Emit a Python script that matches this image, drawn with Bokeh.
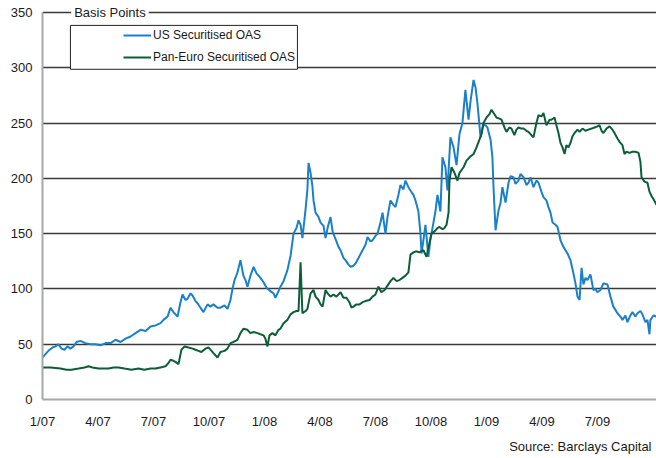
from bokeh.plotting import figure
from bokeh.models import (Range1d, FixedTicker, Label, Legend, LegendItem,
                          BoxAnnotation, ColumnDataSource, Title)
from bokeh.embed import file_html
from bokeh.resources import INLINE

# x = months since start of January 2007
tick_pos = [0, 3, 6, 9, 12, 15, 18, 21, 24, 27, 30]
tick_labels = ["1/07", "4/07", "7/07", "10/07", "1/08", "4/08", "7/08",
               "10/08", "1/09", "4/09", "7/09"]
y_ticks = [0, 50, 100, 150, 200, 250, 300, 350]

us_x = [0, 0.16, 0.32, 0.54, 0.70, 0.86, 1.03, 1.19, 1.35, 1.51, 1.68, 1.84,
        2.05, 2.32, 2.59, 2.86, 3.14, 3.41, 3.68, 3.95, 4.22, 4.49, 4.76,
        5.03, 5.30, 5.57, 5.84, 6.11, 6.38, 6.54, 6.76, 6.92, 7.08, 7.30,
        7.46, 7.57, 7.73, 7.84, 8.00, 8.11, 8.27, 8.38, 8.54, 8.70, 8.92,
        9.08, 9.24, 9.46, 9.62, 9.84, 10.00, 10.16, 10.27, 10.38, 10.54,
        10.70, 10.86, 10.97, 11.08, 11.24, 11.41, 11.57, 11.78, 11.95, 12.11,
        12.32, 12.49, 12.59, 12.76, 12.86, 13.03, 13.24, 13.41, 13.57, 13.73,
        13.84, 13.95, 14.05, 14.22, 14.32, 14.38, 14.49, 14.59, 14.65, 14.76,
        14.92, 15.03, 15.19, 15.30, 15.41, 15.57, 15.68, 15.84, 16.00, 16.11,
        16.27, 16.38, 16.54, 16.65, 16.81, 16.92, 17.08, 17.30, 17.46, 17.57,
        17.73, 17.84, 18.00, 18.11, 18.27, 18.38, 18.54, 18.65, 18.81, 18.97,
        19.08, 19.24, 19.35, 19.51, 19.62, 19.78, 19.89, 20.05, 20.16, 20.32,
        20.43, 20.49, 20.59, 20.70, 20.86, 20.97, 21.08, 21.24, 21.35, 21.51,
        21.62, 21.78, 21.89, 22.05, 22.22, 22.38, 22.54, 22.70, 22.86, 23.03,
        23.14, 23.30, 23.41, 23.51, 23.68, 23.84, 24.05, 24.22, 24.32, 24.38,
        24.49, 24.65, 24.76, 24.86, 25.03, 25.19, 25.30, 25.46, 25.57, 25.73,
        25.84, 26.00, 26.16, 26.27, 26.38, 26.54, 26.70, 26.81, 26.97, 27.08,
        27.24, 27.35, 27.46, 27.57, 27.73, 27.84, 28.00, 28.16, 28.38, 28.54,
        28.70, 28.81, 28.92, 29.03, 29.14, 29.24, 29.35, 29.46, 29.62, 29.78,
        29.89, 30.00, 30.16, 30.32, 30.54, 30.70, 30.86, 31.08, 31.24, 31.35,
        31.51, 31.62, 31.78, 31.89, 32.05, 32.16, 32.32, 32.43, 32.59, 32.70,
        32.81, 32.86, 33.03, 33.19]
us_oas = [38, 41, 44, 47, 48, 50, 46, 45, 48, 46, 48, 52,
          53, 51, 50, 50, 49, 51, 51, 54, 52, 55, 57,
          60, 63, 62, 66, 67, 69, 72, 75, 83, 79, 75,
          88, 95, 90, 91, 96, 94, 89, 87, 83, 79, 86,
          84, 86, 83, 83, 85, 82, 90, 100, 108, 115,
          126, 112, 108, 102, 112, 120, 114, 110, 106, 101,
          98, 96, 92, 98, 102, 107, 117, 130, 150, 155,
          162, 158, 146, 172, 190, 214, 205, 193, 180, 169,
          165, 160, 157, 146, 155, 165, 152, 145, 138, 135,
          128, 126, 122, 120, 121, 123, 128, 135, 140, 147,
          143, 144, 148, 150, 160, 169, 150, 165, 180, 176,
          174, 185, 194, 190, 198, 192, 189, 185, 180, 170,
          150, 132, 144, 158, 129, 145, 155, 170, 185, 170,
          219, 210, 189, 237, 228, 212, 240, 250, 280, 253,
          270, 289, 282, 268, 237, 250, 246, 235, 219, 192,
          153, 171, 178, 192, 178, 196, 202, 201, 195, 198,
          204, 201, 194, 196, 201, 192, 198, 196, 188, 183,
          180, 174, 169, 160, 158, 156, 144, 138, 132, 126,
          114, 105, 93, 90, 119, 104, 110, 108, 113, 99,
          100, 97, 99, 105, 104, 93, 84, 78, 75, 72,
          76, 70, 76, 79, 75, 78, 80, 77, 70, 72,
          59, 72, 76, 75]

eu_x = [0, 0.43, 0.97, 1.30, 1.57, 1.95, 2.27, 2.49, 2.70, 3.03, 3.24, 3.57,
        3.84, 4.11, 4.43, 4.81, 5.19, 5.51, 5.84, 6.11, 6.38, 6.65, 6.81,
        6.92, 7.08, 7.19, 7.35, 7.51, 7.68, 7.89, 8.11, 8.27, 8.43, 8.59,
        8.81, 8.97, 9.14, 9.24, 9.46, 9.62, 9.84, 10.00, 10.16, 10.32, 10.54,
        10.70, 10.86, 11.08, 11.24, 11.41, 11.62, 11.78, 11.95, 12.05, 12.16,
        12.27, 12.43, 12.59, 12.76, 12.86, 13.03, 13.24, 13.41, 13.57, 13.73,
        13.84, 13.95, 14.00, 14.05, 14.22, 14.32, 14.49, 14.65, 14.76, 14.92,
        15.03, 15.14, 15.30, 15.41, 15.57, 15.73, 15.89, 16.11, 16.27, 16.43,
        16.59, 16.70, 16.81, 16.97, 17.14, 17.30, 17.46, 17.68, 17.84, 18.00,
        18.16, 18.32, 18.49, 18.65, 18.81, 18.97, 19.14, 19.30, 19.46, 19.62,
        19.78, 19.89, 20.05, 20.22, 20.38, 20.59, 20.76, 20.92, 21.03, 21.19,
        21.35, 21.46, 21.62, 21.73, 21.84, 21.95, 22.00, 22.11, 22.27, 22.43,
        22.54, 22.76, 22.92, 23.08, 23.30, 23.46, 23.62, 23.73, 23.84, 24.00,
        24.16, 24.27, 24.43, 24.54, 24.70, 24.81, 24.97, 25.08, 25.24, 25.35,
        25.51, 25.62, 25.73, 25.89, 26.00, 26.16, 26.27, 26.43, 26.54, 26.70,
        26.81, 26.97, 27.08, 27.24, 27.41, 27.51, 27.68, 27.78, 27.89, 28.00,
        28.11, 28.22, 28.32, 28.43, 28.54, 28.65, 28.76, 28.92, 29.03, 29.19,
        29.35, 29.51, 29.68, 29.84, 30.00, 30.11, 30.22, 30.32, 30.49, 30.65,
        30.81, 30.92, 31.08, 31.19, 31.35, 31.46, 31.57, 31.73, 31.89, 32.05,
        32.22, 32.32, 32.38, 32.54, 32.70, 32.81, 32.92, 33.03, 33.19]
eu_oas = [29, 29, 28, 27, 27, 28, 29, 30, 29, 28, 28, 28,
          29, 29, 28, 27, 28, 27, 28, 28, 29, 30, 33,
          36, 35, 34, 32, 45, 48, 47, 46, 45, 44, 43,
          46, 47, 44, 42, 38, 43, 44, 46, 51, 52, 54,
          60, 64, 63, 60, 61, 60, 59, 58, 55, 48,
          58, 60, 58, 63, 64, 69, 72, 77, 79, 80,
          80, 124, 100, 78, 80, 82, 96, 99, 93, 90,
          86, 84, 99, 96, 93, 95, 93, 97, 92, 92,
          88, 83, 84, 86, 86, 88, 89, 90, 93, 95,
          102, 97, 99, 103, 107, 110, 107, 108, 110, 112,
          115, 131, 133, 134, 133, 135, 129, 142, 150, 152,
          155, 156, 154, 155, 158, 169, 198, 210, 205, 198,
          205, 210, 216, 219, 222, 228, 235, 240, 250, 255,
          258, 262, 258, 255, 254, 253, 246, 242, 246, 245,
          239, 244, 246, 245, 245, 243, 242, 239, 237, 250,
          257, 256, 259, 248, 253, 253, 255, 248, 241, 232,
          228, 222, 230, 228, 232, 238, 241, 244, 242, 245,
          243, 244, 245, 246, 247, 248, 243, 241, 245, 247,
          244, 241, 236, 233, 230, 222, 224, 223, 224, 224,
          223, 215, 201, 197, 196, 188, 184, 181, 176]

series_names = ["US Securitised OAS", "Pan-Euro Securitised OAS"]
series_colors = ["#1a80c9", "#0b5e38"]

FONT = "Liberation Sans"

p = figure(width=656, height=458, output_backend="svg", toolbar_location=None,
           x_range=Range1d(0, 33.19), y_range=Range1d(0, 359),
           min_border_left=42, min_border_right=0, min_border_top=2,
           min_border_bottom=58)
p.outline_line_color = None
p.background_fill_color = "white"
p.border_fill_color = "white"

p.xgrid.visible = False
p.ygrid.ticker = FixedTicker(ticks=y_ticks)
p.ygrid.grid_line_color = "#3a3a3a"
p.ygrid.grid_line_width = 1.3

p.yaxis.ticker = FixedTicker(ticks=y_ticks)
p.yaxis.bounds = (0, 350)
p.xaxis.ticker = FixedTicker(ticks=tick_pos)
p.xaxis.major_label_overrides = {t: l for t, l in zip(tick_pos, tick_labels)}
for ax in (p.xaxis[0], p.yaxis[0]):
    ax.axis_line_color = "#a8a8a8"
    ax.axis_line_width = 2
    ax.major_tick_line_color = None
    ax.minor_tick_line_color = None
    ax.major_tick_out = 0
    ax.major_tick_in = 0
    ax.minor_tick_out = 0
    ax.major_label_text_font = FONT
    ax.major_label_text_font_size = "13px"
    ax.major_label_text_color = "#1a1a1a"
p.yaxis.major_label_standoff = 10
p.xaxis.major_label_standoff = 14

src_us = ColumnDataSource(dict(x=us_x, y=us_oas))
src_eu = ColumnDataSource(dict(x=eu_x, y=eu_oas))
r_us = p.line("x", "y", source=src_us, line_color=series_colors[0], line_width=2)
r_eu = p.line("x", "y", source=src_eu, line_color=series_colors[1], line_width=2)

# legend frame
box = BoxAnnotation(left=1.51, right=13.78, bottom=298.6, top=338.3,
                    fill_color="white", fill_alpha=1.0,
                    line_color="#222222", line_width=1, line_alpha=1.0)
p.add_layout(box)

legend = Legend(items=[LegendItem(label=series_names[0], renderers=[r_us]),
                       LegendItem(label=series_names[1], renderers=[r_eu])],
                location=(81, 332), padding=0, margin=0, spacing=2,
                glyph_width=28, glyph_height=20, label_height=20,
                label_standoff=2, label_text_font=FONT,
                label_text_font_size="12px", label_text_color="#1a1a1a",
                background_fill_alpha=0, border_line_color=None)
p.add_layout(legend)

bp = Label(x=1.55, y=350, text="Basis Points", text_font=FONT,
           text_font_size="13px", text_color="#1a1a1a",
           text_baseline="middle", text_align="left",
           background_fill_color="white", background_fill_alpha=1.0,
           padding=3)
p.add_layout(bp)

src_title = Title(text="Source: Barclays Capital", align="right",
                  text_font=FONT, text_font_size="13px",
                  text_font_style="normal", text_color="#1a1a1a",
                  offset=5)
p.add_layout(src_title, "below")

open("out.html", "w").write(file_html(p, INLINE))
